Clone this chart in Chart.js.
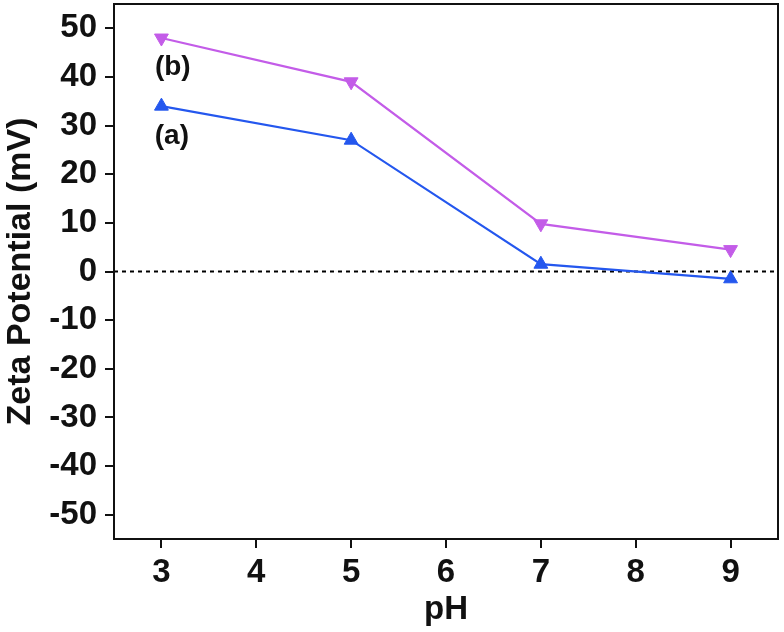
<!DOCTYPE html>
<html>
<head>
<meta charset="utf-8">
<script src="https://cdn.jsdelivr.net/npm/chart.js@4.4.0/dist/chart.umd.min.js"></script>
<style>
  html, body { margin: 0; padding: 0; background: #fff; }
  #wrap { width: 784px; height: 632px; }
</style>
</head>
<body>
<div id="wrap"><canvas id="zetaChart" width="784" height="632"></canvas></div>
<script>
// --- DATI ---
const phValues = [3, 5, 7, 9];
const seriesA = [34, 27, 1.5, -1.5];   // (a) blu
const seriesB = [48, 39, 9.8, 4.5];    // (b) rosa
const xTicks = [3, 4, 5, 6, 7, 8, 9];
const yTicks = [-50, -40, -30, -20, -10, 0, 10, 20, 30, 40, 50];
const seriesLabels = ['(a)', '(b)'];
const labelAnchors = [[3.11, 27.9], [3.12, 41.9]]; // posizione delle etichette (a) e (b)

const blue = '#2457ee';
const pink = '#c35ce8';
const fontFamily = '"Liberation Sans", Arial, sans-serif';

// riquadro + linea tratteggiata a zero + etichette
const framePlugin = {
  id: 'frame',
  beforeDatasetsDraw(chart) {
    const { ctx, chartArea, scales } = chart;
    const y0 = scales.y.getPixelForValue(0);
    ctx.save();
    ctx.strokeStyle = '#000';
    ctx.lineWidth = 2;
    ctx.setLineDash([4, 4]);
    ctx.beginPath();
    ctx.moveTo(chartArea.left, y0);
    ctx.lineTo(chartArea.right, y0);
    ctx.stroke();
    ctx.restore();
  },
  afterDraw(chart) {
    const { ctx, chartArea, scales } = chart;
    ctx.save();
    ctx.strokeStyle = '#111';
    ctx.lineWidth = 2;
    ctx.strokeRect(chartArea.left, chartArea.top, chartArea.right - chartArea.left, chartArea.bottom - chartArea.top);
    ctx.fillStyle = '#111';
    ctx.font = 'bold 28px ' + fontFamily;
    ctx.textAlign = 'center';
    ctx.textBaseline = 'middle';
    seriesLabels.forEach((lbl, i) => {
      const [xv, yv] = labelAnchors[i];
      ctx.fillText(lbl, scales.x.getPixelForValue(xv), scales.y.getPixelForValue(yv));
    });
    ctx.restore();
  }
};

// niente padding automatico per le etichette che sporgono
function noPad(axis) {
  axis.paddingTop = 0;
  axis.paddingBottom = 0;
  axis.paddingLeft = 0;
  axis.paddingRight = 0;
}

const ctx = document.getElementById('zetaChart').getContext('2d');
new Chart(ctx, {
  type: 'line',
  data: {
    datasets: [
      {
        label: '(a)',
        data: phValues.map((x, i) => ({ x: x, y: seriesA[i] })),
        borderColor: blue,
        backgroundColor: blue,
        borderWidth: 2.2,
        pointStyle: 'triangle',
        pointRadius: 8,
        pointBorderWidth: 1,
        tension: 0
      },
      {
        label: '(b)',
        data: phValues.map((x, i) => ({ x: x, y: seriesB[i] })),
        borderColor: pink,
        backgroundColor: pink,
        borderWidth: 2.2,
        pointStyle: 'triangle',
        pointRotation: 180,
        pointRadius: 8,
        pointBorderWidth: 1,
        tension: 0
      }
    ]
  },
  options: {
    responsive: false,
    animation: false,
    layout: { autoPadding: false, padding: { top: 4, right: 6, left: 0, bottom: 0 } },
    plugins: { legend: { display: false }, tooltip: { enabled: false } },
    scales: {
      x: {
        type: 'linear',
        min: 2.5,
        max: 9.5,
        afterBuildTicks: (axis) => { axis.ticks = xTicks.map(v => ({ value: v })); },
        afterFit: (axis) => { axis.height = 93; noPad(axis); },
        grid: { drawOnChartArea: false, drawTicks: true, tickLength: 9, color: '#111', lineWidth: 2 },
        border: { display: true, color: '#111', width: 2 },
        ticks: { color: '#111', padding: 5, font: { family: fontFamily, size: 33, weight: 'bold' } },
        title: { display: true, text: 'pH', color: '#111', padding: { top: 2, bottom: 2 }, font: { family: fontFamily, size: 33, weight: 'bold' } }
      },
      y: {
        min: -55,
        max: 55,
        afterBuildTicks: (axis) => { axis.ticks = yTicks.map(v => ({ value: v })); },
        afterFit: (axis) => { axis.width = 114; noPad(axis); },
        grid: { drawOnChartArea: false, drawTicks: true, tickLength: 9, color: '#111', lineWidth: 2 },
        border: { display: true, color: '#111', width: 2 },
        ticks: { color: '#111', padding: 8, font: { family: fontFamily, size: 33, weight: 'bold' } },
        title: { display: true, text: 'Zeta Potential (mV)', color: '#111', padding: { top: 0, bottom: 0 }, font: { family: fontFamily, size: 34, weight: 'bold' } }
      }
    }
  },
  plugins: [framePlugin]
});
</script>
</body>
</html>
